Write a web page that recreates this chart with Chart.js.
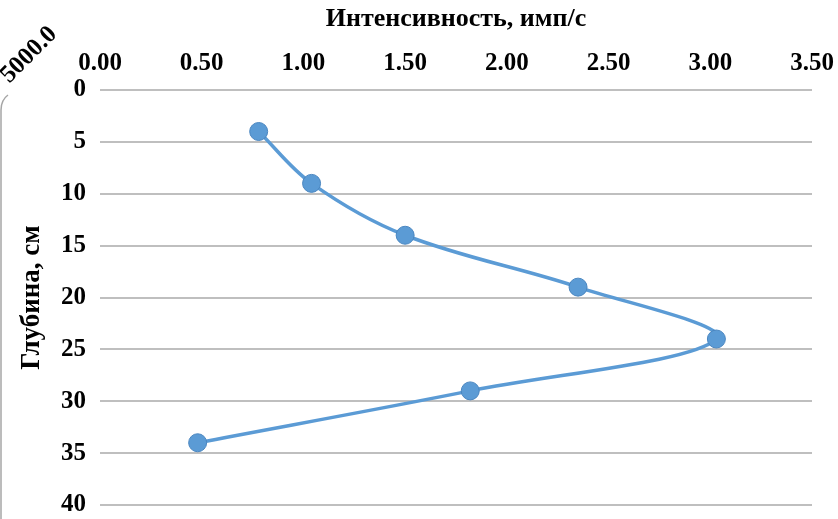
<!DOCTYPE html>
<html>
<head>
<meta charset="utf-8">
<script src="https://cdn.jsdelivr.net/npm/chart.js@4"></script>
<style>
html,body{margin:0;padding:0;background:#fff;}
#wrap{width:838px;height:519px;position:relative;}
</style>
</head>
<body>
<div id="wrap"><canvas id="c" width="838" height="519"></canvas></div>
<script>
const intensity = [0.78, 1.04, 1.50, 2.35, 3.03, 1.82, 0.48];
const depth = [4, 9, 14, 19, 24, 29, 34];
const xTickLabels = ['0.00','0.50','1.00','1.50','2.00','2.50','3.00','3.50'];
const yTickLabels = ['0','5','10','15','20','25','30','35','40'];
const xTitle = 'Интенсивность, имп/с';
const yTitle = 'Глубина, см';
const cornerLabel = '5000.0';

const FONT = '"Liberation Serif", "Times New Roman", serif';
const points = intensity.map((v, i) => ({x: v, y: depth[i]}));

const extras = {
  id: 'extras',
  afterDraw(chart) {
    const ctx = chart.ctx;
    ctx.save();
    ctx.translate(29, 55);
    ctx.rotate(-Math.PI / 4);
    ctx.font = 'bold 25px ' + FONT;
    ctx.fillStyle = '#000';
    ctx.textAlign = 'center';
    ctx.textBaseline = 'middle';
    ctx.fillText(cornerLabel, 0, 0);
    ctx.restore();
    ctx.save();
    ctx.strokeStyle = '#a6a6a6';
    ctx.lineWidth = 1.5;
    ctx.beginPath();
    ctx.moveTo(1, 519);
    ctx.lineTo(1, 110);
    ctx.quadraticCurveTo(1, 100, 8, 95);
    ctx.stroke();
    ctx.restore();
  }
};

new Chart(document.getElementById('c'), {
  type: 'scatter',
  data: {
    datasets: [{
      data: points,
      showLine: true,
      tension: 0.35,
      borderColor: '#5b9bd5',
      borderWidth: 3.5,
      pointRadius: 9,
      pointBackgroundColor: '#5b9bd5',
      pointBorderColor: '#4a86c0',
      pointBorderWidth: 1
    }]
  },
  options: {
    responsive: false,
    animation: false,
    devicePixelRatio: 1,
    layout: {padding: {left: 0, top: 0, right: 26, bottom: 14}},
    plugins: {legend: {display: false}, tooltip: {enabled: false}},
    scales: {
      x: {
        type: 'linear',
        position: 'top',
        min: 0, max: 3.5,
        afterBuildTicks(axis) { axis.ticks = xTickLabels.map(v => ({value: parseFloat(v)})); },
        ticks: {
          callback: (v, i) => xTickLabels[i],
          font: {family: FONT, size: 25, weight: 'bold'},
          color: '#000',
          padding: 11,
          maxRotation: 0, autoSkip: false
        },
        grid: {display: false, drawTicks: false},
        border: {display: false},
        title: {display: true, text: xTitle, font: {family: FONT, size: 26, weight: 'bold'}, color: '#000', padding: {top: 4, bottom: 10}},
        afterFit(axis) { axis.height = 90; axis.paddingLeft = 0; axis.paddingRight = 0; }
      },
      y: {
        type: 'linear',
        reverse: true,
        min: 0, max: 40,
        afterBuildTicks(axis) { axis.ticks = yTickLabels.map(v => ({value: parseFloat(v)})); },
        ticks: {
          callback: (v, i) => yTickLabels[i],
          font: {family: FONT, size: 25, weight: 'bold'},
          color: '#000',
          padding: 14,
          autoSkip: false
        },
        grid: {color: '#bfbfbf', lineWidth: 2, drawTicks: false},
        border: {display: false},
        title: {display: true, text: yTitle, font: {family: FONT, size: 27, weight: 'bold'}, color: '#000', padding: {top: 16, bottom: 8}},
        afterFit(axis) { axis.width = 100; axis.paddingTop = 0; axis.paddingBottom = 0; }
      }
    }
  },
  plugins: [extras]
});
</script>
</body>
</html>
